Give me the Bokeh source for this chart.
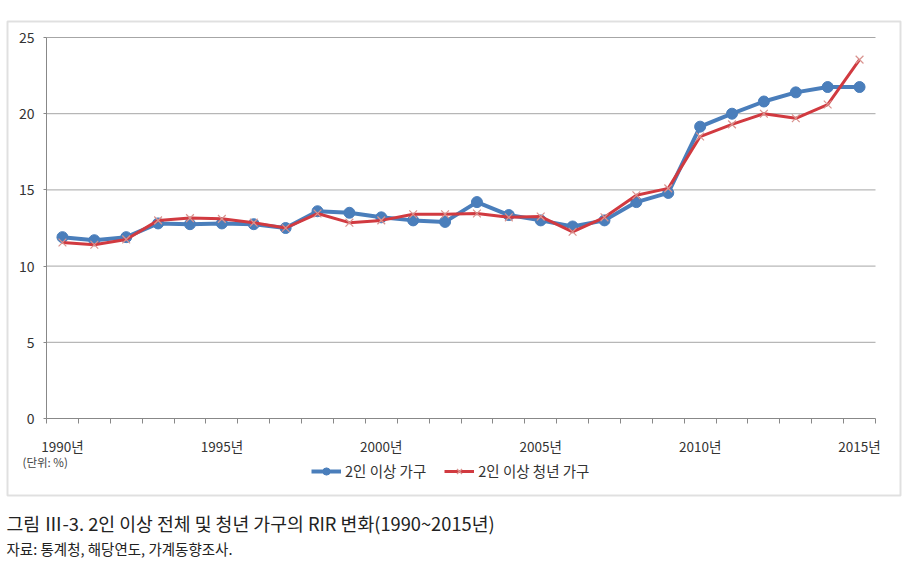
from bokeh.plotting import figure
from bokeh.models import Range1d, FixedTicker, Label, BoxAnnotation, Legend, LegendItem
from bokeh.embed import file_html
from bokeh.resources import INLINE

years = list(range(1990, 2016))
all_hh = [11.9, 11.7, 11.9, 12.8, 12.75, 12.8, 12.75, 12.5, 13.6, 13.5, 13.2, 13.0, 12.9,
          14.2, 13.35, 13.0, 12.6, 13.0, 14.2, 14.8, 19.15, 20.0, 20.8, 21.4, 21.75, 21.75]
young_hh = [11.55, 11.4, 11.75, 13.0, 13.15, 13.1, 12.85, 12.5, 13.45, 12.85, 13.0, 13.4, 13.4,
            13.45, 13.2, 13.25, 12.25, 13.2, 14.65, 15.1, 18.5, 19.3, 20.0, 19.7, 20.6, 23.55]
label_years = [1990, 1995, 2000, 2005, 2010, 2015]
y_ticks = [0, 5, 10, 15, 20, 25]
series_names = ["2인 이상 가구", "2인 이상 청년 가구"]
title = "그림 Ⅲ-3. 2인 이상 전체 및 청년 가구의 RIR 변화(1990~2015년)"
source_note = "자료: 통계청, 해당연도, 가계동향조사."
unit_note = "(단위: %)"

FONT = "Noto Sans CJK KR"
BLUE = "#4A7EBB"
RED = "#D13A40"
W, H = 912, 575

# pixel layout of the plotting area inside the canvas (frame = whole canvas)
PX_L, PX_R, PX_T, PX_B = 46, 875, 37, 418
x_lo, x_hi = years[0] - 0.5, years[-1] + 0.5
y_lo, y_hi = y_ticks[0], y_ticks[-1]
sx = (PX_R - PX_L) / (x_hi - x_lo)
sy = (PX_B - PX_T) / (y_hi - y_lo)
x_range = Range1d(x_lo - PX_L / sx, x_hi + (W - PX_R) / sx)
y_range = Range1d(y_lo - (H - PX_B) / sy, y_hi + PX_T / sy)

p = figure(width=W, height=H, output_backend="svg", toolbar_location=None,
           x_range=x_range, y_range=y_range,
           min_border=0, min_border_left=0, min_border_right=0,
           min_border_top=0, min_border_bottom=0)
p.outline_line_color = None
p.background_fill_color = "white"
p.border_fill_color = "white"
p.grid.visible = False

# grid lines limited to the plotting area
p.segment(x0=[x_lo] * (len(y_ticks) - 1), x1=[x_hi] * (len(y_ticks) - 1),
          y0=y_ticks[1:], y1=y_ticks[1:], line_color="#a6a6a6", line_width=1)

# x axis
p.xaxis.fixed_location = y_lo
p.xaxis.bounds = (x_lo, x_hi)
p.xaxis.ticker = FixedTicker(ticks=label_years,
                             minor_ticks=[y - 0.5 for y in years] + [x_hi])
p.xaxis.major_label_overrides = {y: f"{y}년" for y in label_years}
p.xaxis.major_tick_line_color = None
p.xaxis.major_tick_out = 0
p.xaxis.major_tick_in = 0
p.xaxis.minor_tick_out = 5
p.xaxis.minor_tick_in = 0
p.xaxis.minor_tick_line_color = "#888888"
p.xaxis.axis_line_color = "#888888"
p.xaxis.major_label_standoff = 12
p.xaxis.major_label_text_font = FONT
p.xaxis.major_label_text_font_size = "13.5px"
p.xaxis.major_label_text_color = "#333333"

# y axis
p.yaxis.fixed_location = x_lo
p.yaxis.bounds = (y_lo, y_hi)
p.yaxis.ticker = FixedTicker(ticks=y_ticks)
p.yaxis.minor_tick_line_color = None
p.yaxis.major_tick_out = 3
p.yaxis.major_tick_in = 0
p.yaxis.major_tick_line_color = "#888888"
p.yaxis.axis_line_color = "#888888"
p.yaxis.major_label_standoff = 9
p.yaxis.major_label_text_font = FONT
p.yaxis.major_label_text_font_size = "14px"
p.yaxis.major_label_text_color = "#333333"

l1 = p.line(years, all_hh, line_color=BLUE, line_width=4)
s1 = p.scatter(years, all_hh, marker="circle", size=11, fill_color=BLUE, line_color=BLUE)
l2 = p.line(years, young_hh, line_color=RED, line_width=3)
s2 = p.scatter(years, young_hh, marker="x", size=11, line_color="#D9938F", line_width=1.2)

legend = Legend(items=[LegendItem(label=series_names[0], renderers=[l1, s1]),
                       LegendItem(label=series_names[1], renderers=[l2, s2])],
                orientation="horizontal", location=(311, H - 481),
                label_text_font=FONT, label_text_font_size="14.5px", label_text_color="#333333",
                glyph_width=30, glyph_height=18, label_standoff=4, spacing=18,
                padding=0, margin=0, border_line_color=None, background_fill_alpha=0)
p.add_layout(legend)

p.add_layout(Label(x=22, y=H - 461, x_units="screen", y_units="screen", text=unit_note,
                   text_font=FONT, text_font_size="11.5px", text_color="#444444",
                   text_baseline="middle"))
p.add_layout(Label(x=6, y=H - 522, x_units="screen", y_units="screen", text=title,
                   text_font=FONT, text_font_size="18.3px", text_color="#222222",
                   text_baseline="middle"))
p.add_layout(Label(x=6, y=H - 548, x_units="screen", y_units="screen", text=source_note,
                   text_font=FONT, text_font_size="14.5px", text_color="#222222",
                   text_baseline="middle"))

p.add_layout(BoxAnnotation(left=7, right=900, top=H - 21, bottom=H - 495,
                           left_units="screen", right_units="screen",
                           top_units="screen", bottom_units="screen",
                           fill_alpha=0, line_color="#999999", line_width=2))

open("out.html", "w").write(file_html(p, INLINE))
